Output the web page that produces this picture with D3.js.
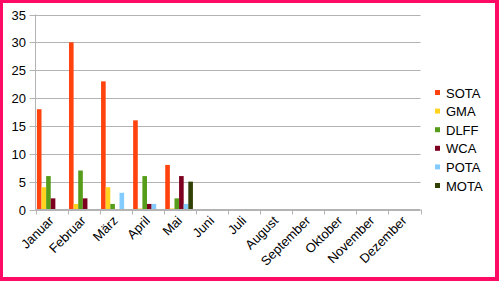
<!DOCTYPE html>
<html>
<head>
<meta charset="utf-8">
<script src="https://cdn.jsdelivr.net/npm/d3@7"></script>
<style>
  body { margin: 0; background: #fff; }
  svg { display: block; font-family: "Liberation Sans", Arial, sans-serif; }
</style>
</head>
<body>
<svg id="chart" width="499" height="281"></svg>
<script>
// monthly counts per program (null = empty cell)
const months = ["Januar", "Februar", "März", "April", "Mai", "Juni", "Juli",
    "August", "September", "Oktober", "November", "Dezember"];
const series = ["SOTA", "GMA", "DLFF", "WCA", "POTA", "MOTA"];
const colors = ["#ff420e", "#ffd320", "#579d1c", "#7e0021", "#83caff", "#314004"];
const SOTA = [18, 30, 23, 16, 8, null, null, null, null, null, null, null];
const GMA  = [4, 1, 4, 0, 0, null, null, null, null, null, null, null];
const DLFF = [6, 7, 1, 6, 2, null, null, null, null, null, null, null];
const WCA  = [2, 2, null, 1, 6, null, null, null, null, null, null, null];
const POTA = [null, null, 3, 1, 1, null, null, null, null, null, null, null];
const MOTA = [null, null, null, null, 5, null, null, null, null, null, null, null];
const yTicks = [0, 5, 10, 15, 20, 25, 30, 35];

const values = [SOTA, GMA, DLFF, WCA, POTA, MOTA];

const svg = d3.select("#chart");

// frame
svg.append("rect").attr("width", 499).attr("height", 281).attr("fill", "#ff0a64");
svg.append("rect").attr("x", 3).attr("y", 3).attr("width", 492).attr("height", 274).attr("fill", "#fff");

const plotLeft = 35.5, plotRight = 420.5, plotTop = 14.5, plotBottom = 209.5;

const x = d3.scaleBand().domain(months).range([plotLeft, plotRight]).padding(0);
const bw = x.bandwidth();
const x1 = d3.scaleBand().domain(series).range([1.4, bw - 3]).padding(0);
const y = d3.scaleLinear().domain([0, 35]).range([plotBottom, plotTop]);

// gridlines
svg.append("g")
    .selectAll("line")
    .data(yTicks)
    .enter()
    .append("line")
    .attr("x1", plotLeft - 6)
    .attr("x2", plotRight)
    .attr("y1", d => Math.round(y(d)) + 0.5)
    .attr("y2", d => Math.round(y(d)) + 0.5)
    .attr("stroke", "#b3b3b3")
    .attr("stroke-width", 1);

// y labels
svg.append("g")
    .selectAll("text")
    .data(yTicks)
    .enter()
    .append("text")
    .attr("x", 26)
    .attr("y", d => y(d) + 5)
    .attr("text-anchor", "end")
    .attr("font-size", 13)
    .attr("fill", "#000")
    .text(d => d);

// bars
const rows = [];
months.forEach((m, i) => {
    series.forEach((s, j) => {
        if (values[j][i] !== null) rows.push({ month: m, key: s, value: values[j][i], color: colors[j] });
    });
});

svg.append("g")
    .selectAll("rect")
    .data(rows)
    .enter()
    .append("rect")
    .attr("x", d => x(d.month) + x1(d.key))
    .attr("width", x1.bandwidth())
    .attr("y", d => Math.min(y(d.value), plotBottom - 1))
    .attr("height", d => Math.max(plotBottom - y(d.value), 1))
    .attr("fill", d => d.color);

// axes lines
svg.append("line")
    .attr("x1", plotLeft).attr("x2", plotLeft)
    .attr("y1", plotTop).attr("y2", plotBottom)
    .attr("stroke", "#b3b3b3");
svg.append("line")
    .attr("x1", plotLeft).attr("x2", plotRight)
    .attr("y1", plotBottom).attr("y2", plotBottom)
    .attr("stroke", "#b3b3b3");

// x ticks
const xTickPos = months.map(m => x(m)).concat([plotRight]);
svg.append("g")
    .selectAll("line")
    .data(xTickPos)
    .enter()
    .append("line")
    .attr("x1", d => Math.round(d) + 0.5)
    .attr("x2", d => Math.round(d) + 0.5)
    .attr("y1", plotBottom)
    .attr("y2", plotBottom + 5)
    .attr("stroke", "#b3b3b3");

// x labels
svg.append("g")
    .selectAll("text")
    .data(months)
    .enter()
    .append("text")
    .attr("transform", d => `translate(${x(d) + bw / 2 + 3},${plotBottom + 12}) rotate(-45)`)
    .attr("text-anchor", "end")
    .attr("font-size", 13)
    .attr("fill", "#000")
    .text(d => d);

// legend
const legend = svg.append("g")
    .selectAll("g")
    .data(series)
    .enter()
    .append("g")
    .attr("transform", (d, i) => `translate(435,${93 + i * 18.6})`);

legend.append("rect")
    .attr("x", 0)
    .attr("y", -3)
    .attr("width", 5)
    .attr("height", 5)
    .attr("fill", (d, i) => colors[i]);

legend.append("text")
    .attr("x", 11)
    .attr("y", 4.5)
    .attr("font-size", 13)
    .attr("fill", "#000")
    .text(d => d);
</script>
</body>
</html>
